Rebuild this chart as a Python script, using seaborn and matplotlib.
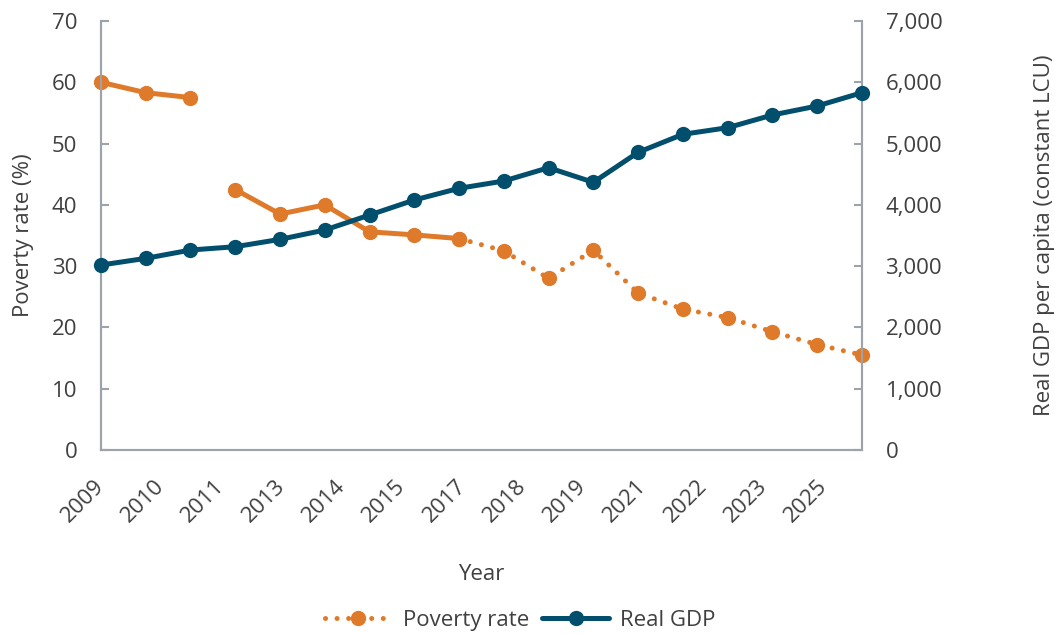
import numpy as np
import pandas as pd
import matplotlib
matplotlib.use("Agg")
import matplotlib.pyplot as plt
from matplotlib.lines import Line2D
from matplotlib.ticker import FuncFormatter
import seaborn as sns

# ---- data -------------------------------------------------------------
years = list(range(2009, 2027))
real_gdp = [3018, 3127, 3263, 3317, 3437, 3589, 3834, 4079, 4270,
            4389, 4606, 4368, 4857, 5151, 5259, 5466, 5613, 5830]
poverty_rate = [60.0, 58.3, 57.5, 42.5, 38.5, 40.0, 35.6, 35.1, 34.5,
                32.5, 28.0, 32.6, 25.6, 23.0, 21.6, 19.3, 17.2, 15.5]
# survey segments (solid) and projection (dotted)
survey_1 = [2009, 2010, 2011]
survey_2 = [2012, 2013, 2014, 2015, 2016, 2017]
projection = [2017, 2018, 2019, 2020, 2021, 2022, 2023, 2024, 2025, 2026]
x_tick_labels = ["2009", "2010", "2011", "2013", "2014", "2015", "2017",
                 "2018", "2019", "2021", "2022", "2023", "2025"]

df = pd.DataFrame({"year": years, "gdp": real_gdp, "poverty": poverty_rate})

# ---- style ------------------------------------------------------------
sns.set_theme(style="white")
plt.rcParams["font.family"] = ["Open Sans", "DejaVu Sans"]
TEXT = "#404040"
SPINE = "#9EA3AA"
ORANGE = "#DF7A2B"
TEAL = "#024F6D"
FS = 16

fig = plt.figure(figsize=(10.55, 6.34), dpi=100)
ax = fig.add_axes([0.0957, 0.2902, 0.817 - 0.0957, 0.9669 - 0.2902])
ax2 = ax.twinx()

line_kw = dict(linewidth=3.6, marker="o", markersize=11, markeredgewidth=0,
               clip_on=False)
dot_style = (0, (0.01, 2.3))

# poverty rate, left axis
for seg, ls in ((survey_1, "-"), (survey_2, "-"), (projection, dot_style)):
    sub = df[df["year"].isin(seg)]
    sns.lineplot(data=sub, x="year", y="poverty", ax=ax, color=ORANGE,
                 linestyle=ls, dash_capstyle="round", solid_capstyle="round",
                 markeredgecolor=ORANGE, legend=False, zorder=3, **line_kw)

# real GDP, right axis
sns.lineplot(data=df, x="year", y="gdp", ax=ax2, color=TEAL,
             markeredgecolor=TEAL, solid_capstyle="round", legend=False,
             zorder=3, **line_kw)

# ---- axes -------------------------------------------------------------
ax.set_xlim(2009, 2026)
ax.set_ylim(0, 70)
ax2.set_ylim(0, 7000)
ax.set_yticks(np.arange(0, 71, 10))
ax2.set_yticks(np.arange(0, 7001, 1000))
ax2.yaxis.set_major_formatter(FuncFormatter(lambda v, p: f"{int(v):,}"))

step = (2026 - 2009) / 12.625
ax.set_xticks([2009 + i * step for i in range(len(x_tick_labels))])
ax.set_xticklabels(x_tick_labels, rotation=45, ha="right", va="center",
                   rotation_mode="anchor")

for a in (ax, ax2):
    a.spines["top"].set_visible(False)
    for side in ("left", "right", "bottom"):
        a.spines[side].set_color(SPINE)
        a.spines[side].set_linewidth(1.5)
    a.tick_params(direction="in", length=6, width=1.5, color=SPINE,
                  labelcolor=TEXT, labelsize=FS)
ax.tick_params(axis="y", pad=17)
ax2.tick_params(axis="y", pad=17)
ax.tick_params(axis="x", pad=24)
ax.grid(False)
ax2.grid(False)

ax.set_xlabel("Year", fontsize=FS, color=TEXT, labelpad=27)
ax.set_ylabel("Poverty rate (%)", fontsize=FS, color=TEXT, labelpad=13)
ax2.set_ylabel("Real GDP per capita (constant LCU)", fontsize=FS,
               color=TEXT, labelpad=66)

# ---- legend -----------------------------------------------------------
handles = [
    Line2D([], [], color=ORANGE, linestyle=dot_style, linewidth=3.6,
           dash_capstyle="round", marker="o", markersize=11,
           markeredgewidth=0),
    Line2D([], [], color=TEAL, linewidth=3.6, solid_capstyle="round",
           marker="o", markersize=11, markeredgewidth=0),
]
fig.legend(handles, ["Poverty rate", "Real GDP"], loc="center",
           bbox_to_anchor=(0.493, 0.022), ncol=2, frameon=False,
           fontsize=FS, labelcolor=TEXT, handlelength=3.0,
           handletextpad=0.5, columnspacing=0.6)

fig.savefig("out.png", dpi=100)
